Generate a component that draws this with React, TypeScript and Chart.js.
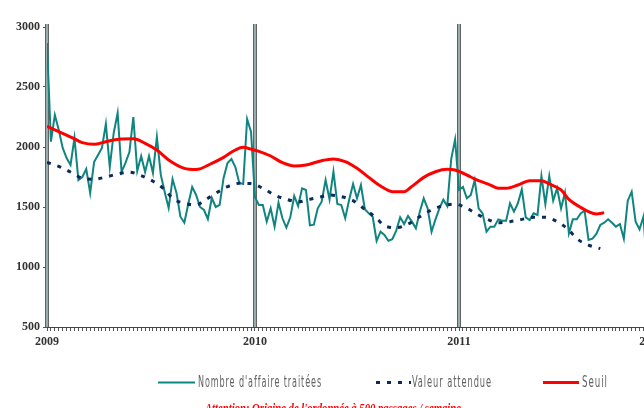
import { useEffect, useRef } from 'react';
import { Chart, registerables } from 'chart.js';

Chart.register(...registerables);

// ---- data ----
const yearLabels = ['2009', '2010', '2011', '2012'];
const yearWeeks = [0, 53, 105, 154];

// Nombre d'affaire traitées, one value per week starting week 0 (first week of 2009)
const affaires = [
  2867, 2044, 2267, 2142, 1992, 1908, 1850, 2075, 1725, 1750, 1817, 1617, 1875, 1933, 1992, 2192, 1833, 2117, 2283, 1792,
  1867, 1958, 2250, 1800, 1925, 1792, 1925, 1783, 2083, 1767, 1625, 1492, 1733, 1617, 1419, 1369, 1525, 1667, 1600, 1500,
  1475, 1400, 1575, 1500, 1517, 1742, 1867, 1900, 1833, 1700, 1692, 2233, 2125,
  1581, 1517, 1517, 1378, 1489, 1336, 1536, 1406, 1328, 1414, 1592, 1508, 1656, 1642, 1347, 1353, 1489, 1544, 1725, 1564,
  1794, 1525, 1517, 1406, 1561, 1692, 1572, 1683, 1481, 1447, 1419, 1217, 1294, 1267, 1219, 1231, 1303, 1414, 1358, 1425,
  1378, 1322, 1461, 1572, 1489, 1294, 1397, 1489, 1561, 1508, 1897, 2064, 1642,
  1667, 1572, 1600, 1725, 1489, 1447, 1294, 1336, 1336, 1397, 1386, 1386, 1531, 1461, 1531, 1647, 1414, 1392, 1447, 1433,
  1758, 1525, 1758, 1553, 1656, 1489, 1619, 1281, 1397, 1397, 1447, 1469, 1225, 1236, 1275, 1350, 1369, 1397, 1369, 1336,
  1358, 1236, 1553, 1628, 1378, 1314, 1419, 950,
];

// Valeur attendue (read at these weeks)
const attenduWeeks = [
  0, 4, 7, 9, 12, 15, 18, 21, 24, 27, 30, 32, 35, 38, 40, 43, 46, 49, 52, 55,
  58, 61, 64, 67, 70, 72, 75, 78, 81, 84, 86, 89, 92, 95, 98, 101, 104, 107, 110, 113,
  115, 118, 121, 124, 127, 130, 133, 135, 138, 141,
];
const attenduValues = [
  1872, 1825, 1773, 1739, 1731, 1750, 1775, 1790, 1762, 1715, 1645, 1572, 1531, 1517, 1553, 1614, 1669, 1697, 1695, 1656,
  1600, 1564, 1544, 1564, 1586, 1600, 1586, 1553, 1481, 1406, 1344, 1328, 1358, 1419, 1475, 1512, 1524, 1489, 1433, 1386,
  1369, 1378, 1397, 1414, 1414, 1378, 1308, 1236, 1183, 1153,
];

// Seuil (read at these weeks)
const seuilWeeks = [
  0, 3, 7, 9, 12, 15, 19, 22, 25, 28, 31, 35, 38, 42, 45, 48, 50, 52, 54, 57,
  60, 63, 66, 70, 73, 76, 79, 82, 85, 88, 91, 93, 96, 99, 102, 104, 108, 110, 113, 115,
  117, 120, 123, 126, 128, 131, 133, 136, 138, 140, 142,
];
const seuilValues = [
  2172, 2128, 2068, 2036, 2022, 2044, 2067, 2068, 2031, 1975, 1892, 1822, 1812, 1864, 1914, 1975, 1997, 1982, 1964, 1925,
  1869, 1842, 1850, 1886, 1900, 1878, 1822, 1747, 1675, 1628, 1628, 1672, 1747, 1794, 1814, 1808, 1750, 1719, 1683, 1656,
  1656, 1683, 1719, 1719, 1692, 1642, 1564, 1497, 1461, 1442, 1453,
];

const yMin = 500;
const yMax = 3000;
const yStep = 500;
const xMaxWeek = 164;

const seriesLabels = ["Nombre d'affaire traitées", 'Valeur attendue', 'Seuil'];
const noteText = "Attention: Origine de l'ordonnée à 500 passages / semaine";

// ---- plugins ----
const yearLinesPlugin = {
  id: 'yearLines',
  beforeDatasetsDraw(chart: any) {
    const { ctx, chartArea, scales } = chart;
    ctx.save();
    yearWeeks.forEach((w) => {
      const x = Math.round(scales.x.getPixelForValue(w));
      const top = chartArea.top - 3;
      const h = chartArea.bottom - top;
      ctx.fillStyle = '#5f6464';
      ctx.fillRect(x - 2, top, 4, h);
      ctx.fillStyle = '#97adad';
      ctx.fillRect(x - 1, top, 2, h);
    });
    ctx.restore();
  },
};

const legendPlugin = {
  id: 'customLegend',
  afterDraw(chart: any) {
    const { ctx } = chart;
    const ds = chart.data.datasets;
    const items = [
      { d: ds[0], sx: 158, sw: 37, tx: 198, tw: 124 },
      { d: ds[1], sx: 376, sw: 35, tx: 412, tw: 80 },
      { d: ds[2], sx: 543, sw: 36, tx: 582, tw: 26 },
    ];
    const ly = 382.5;
    ctx.save();
    items.forEach((it) => {
      ctx.beginPath();
      ctx.strokeStyle = it.d.borderColor;
      ctx.lineWidth = it.d.borderWidth;
      ctx.lineCap = 'butt';
      ctx.setLineDash(it.d.borderDash || []);
      ctx.moveTo(it.sx, ly);
      ctx.lineTo(it.sx + it.sw, ly);
      ctx.stroke();
      ctx.setLineDash([]);
      ctx.fillStyle = '#626262';
      ctx.font = '15px "Liberation Sans Narrow", "DejaVu Sans Condensed", "Liberation Sans", sans-serif';
      try { (ctx as any).letterSpacing = '1.5px'; } catch (e) {}
      ctx.textAlign = 'left';
      ctx.textBaseline = 'alphabetic';
      ctx.fillText(it.d.label, it.tx, 387, it.tw);
    });
    try { (ctx as any).letterSpacing = '0px'; } catch (e) {}
    ctx.fillStyle = '#ff0000';
    ctx.font = 'italic bold 12px "Liberation Serif", serif';
    ctx.textAlign = 'left';
    ctx.fillText(noteText, 205, 412, 256);
    ctx.restore();
  },
};

export default function App() {
  const ref = useRef<HTMLCanvasElement>(null);

  useEffect(() => {
    if (!ref.current) return;
    const chart = new Chart(ref.current, {
      type: 'line',
      data: {
        datasets: [
          {
            label: seriesLabels[0],
            data: affaires.map((v, i) => ({ x: i, y: v })),
            borderColor: '#10857f',
            borderWidth: 2,
            pointRadius: 0,
            tension: 0,
            order: 3,
          },
          {
            label: seriesLabels[1],
            data: attenduWeeks.map((w, i) => ({ x: w, y: attenduValues[i] })),
            borderColor: '#0c2a5c',
            borderWidth: 3,
            borderDash: [4, 7],
            borderCapStyle: 'butt',
            pointRadius: 0,
            cubicInterpolationMode: 'monotone',
            order: 2,
          },
          {
            label: seriesLabels[2],
            data: seuilWeeks.map((w, i) => ({ x: w, y: seuilValues[i] })),
            borderColor: '#ff0000',
            borderWidth: 3,
            pointRadius: 0,
            cubicInterpolationMode: 'monotone',
            order: 1,
          },
        ] as any,
      },
      options: {
        animation: false,
        responsive: false,
        devicePixelRatio: 1,
        layout: { padding: { top: 27, left: 0, right: 700 - (47 + xMaxWeek * 3.924), bottom: 51 } },
        plugins: {
          legend: { display: false },
          tooltip: { enabled: false },
        },
        scales: {
          x: {
            type: 'linear',
            min: 0,
            max: xMaxWeek,
            afterFit: (s: any) => { s.height = 30; },
            ticks: {
              stepSize: 1,
              autoSkip: false,
              maxRotation: 0,
              minRotation: 0,
              padding: 4,
              color: '#333333',
              font: { family: '"Liberation Serif", serif', size: 12, weight: 'bold' },
              callback: (v: any) => {
                const k = yearWeeks.indexOf(Number(v));
                return k >= 0 ? yearLabels[k] : '';
              },
            },
            grid: { drawOnChartArea: false, drawTicks: true, tickLength: 4, color: '#555555', lineWidth: 1 },
            border: { display: true, color: '#444444', width: 1 },
          },
          y: {
            min: yMin,
            max: yMax,
            afterFit: (s: any) => { s.width = 47; },
            ticks: {
              stepSize: yStep,
              padding: 3,
              color: '#333333',
              font: { family: '"Liberation Serif", serif', size: 12, weight: 'bold' },
              callback: (v: any) => String(v),
            },
            grid: { drawOnChartArea: false, drawTicks: true, tickLength: 4, color: '#555555' },
            border: { display: false },
          },
        },
      } as any,
      plugins: [yearLinesPlugin, legendPlugin],
    });
    return () => chart.destroy();
  }, []);

  return (
    <div style={{ position: 'absolute', left: 0, top: 0, width: 644, height: 408, overflow: 'hidden', background: '#fff' }}>
      <canvas ref={ref} width={700} height={408} style={{ display: 'block' }} />
    </div>
  );
}
